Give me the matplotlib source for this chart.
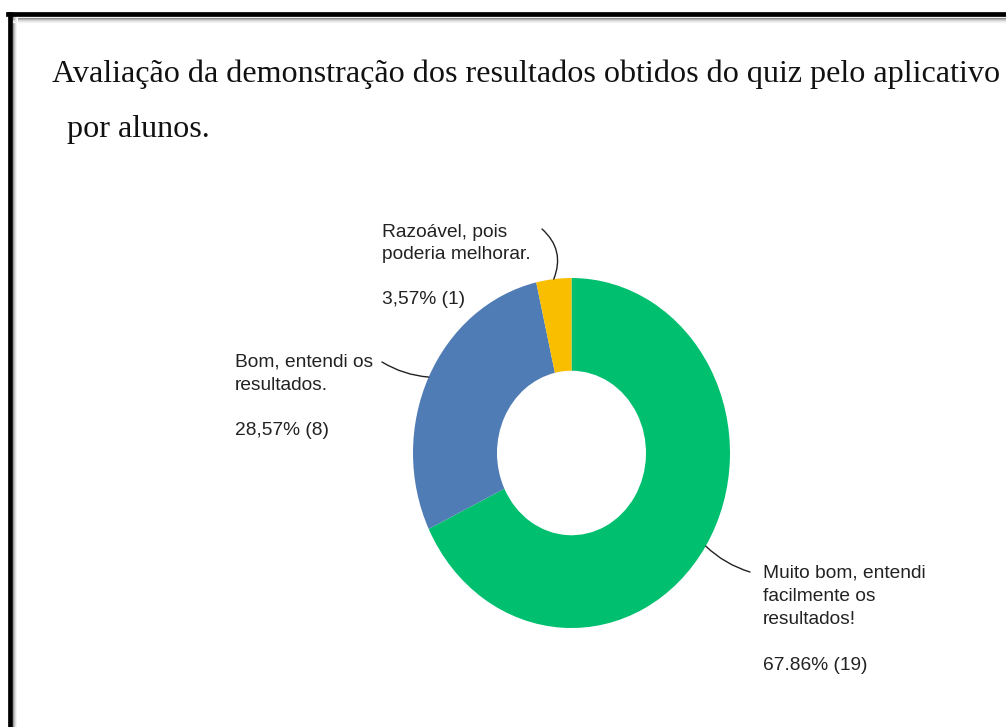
import matplotlib
matplotlib.use("Agg")
import matplotlib.pyplot as plt
import numpy as np

# Respostas do quiz (número de alunos por opção)
categorias = ["Muito bom, entendi\nfacilmente os\nresultados!",
              "Bom, entendi os\nresultados.",
              "Razoável, pois\npoderia melhorar."]
respostas = [19, 8, 1]
rotulos_pct = ["67.86% (19)", "28,57% (8)", "3,57% (1)"]
cores = ["#00BF6F", "#507CB6", "#F9BE00"]

titulo_l1 = "Avaliação da demonstração dos resultados obtidos do quiz pelo aplicativo"
titulo_l2 = "por alunos."

W, H = 1006, 727
fig = plt.figure(figsize=(W / 100, H / 100), dpi=100)
fig.patch.set_facecolor("white")

def px(x, y):
    # pixel da imagem (origem no topo) -> fração da figura
    return x / W, 1 - y / H

# moldura (só topo e lado esquerdo aparecem) com sombra
for i, g in enumerate([0.55, 0.7, 0.82, 0.9, 0.95]):
    fig.add_artist(plt.Line2D([10 / W, 1], [1 - (17.5 + i) / H] * 2, color=str(g), lw=0.9,
                              transform=fig.transFigure))
    fig.add_artist(plt.Line2D([(13 + i) / W] * 2, [0, 1 - 16 / H], color=str(min(g + 0.05, 1)),
                              lw=0.7, transform=fig.transFigure))
fig.add_artist(plt.Line2D([8 / W, 1], [1 - 14 / H] * 2, color="black", lw=3.4,
                          solid_capstyle="projecting", transform=fig.transFigure))
fig.add_artist(plt.Line2D([10 / W] * 2, [0, 1 - 14 / H], color="black", lw=3.4,
                          transform=fig.transFigure))

# título
fig.text(*px(52, 82), titulo_l1, family="Liberation Serif", fontsize=23.1,
         color="#111111", va="baseline", ha="left")
fig.text(*px(67, 137), titulo_l2, family="Liberation Serif", fontsize=23.1,
         color="#111111", va="baseline", ha="left")

# rosca (levemente esticada na vertical)
cx, cy, rx, ry = 571.5, 453, 158.5, 175
ax = fig.add_axes([(cx - rx) / W, (H - cy - ry) / H, 2 * rx / W, 2 * ry / H])
wedges, _ = ax.pie(respostas, colors=cores, startangle=90, counterclock=False,
                   radius=1, wedgeprops=dict(width=0.53, linewidth=0))
ax.set_xlim(-1, 1)
ax.set_ylim(-1, 1)
ax.set_aspect("auto")
ax.axis("off")

# rótulos: (x, y do topo) em pixels, ponto de saída do traço, curvatura
pos_texto = [(763, 565), (235, 354), (382, 224)]
pos_traco = [(750, 572), (382, 362), (542, 229)]
curvas = [-0.12, 0.12, -0.35]
linesp = [1.47, 1.44, 1.42]

for w, cat, pct, (tx, ty), (lx, ly), rad, ls in zip(wedges, categorias, rotulos_pct,
                                                     pos_texto, pos_traco, curvas, linesp):
    ang = np.deg2rad((w.theta1 + w.theta2) / 2)
    fig.text(*px(tx, ty), cat + "\n\n" + pct, family=["Liberation Sans", "DejaVu Sans"],
             fontsize=13.8, color="#222222", va="top", ha="left", linespacing=ls)
    ax.annotate("", xy=(np.cos(ang), np.sin(ang)), xycoords="data",
                xytext=(lx, H - ly), textcoords="figure pixels",
                arrowprops=dict(arrowstyle="-", color="#222222", lw=1.0,
                                shrinkA=0, shrinkB=0,
                                connectionstyle=f"arc3,rad={rad}"))

fig.savefig("out.png", dpi=100)
